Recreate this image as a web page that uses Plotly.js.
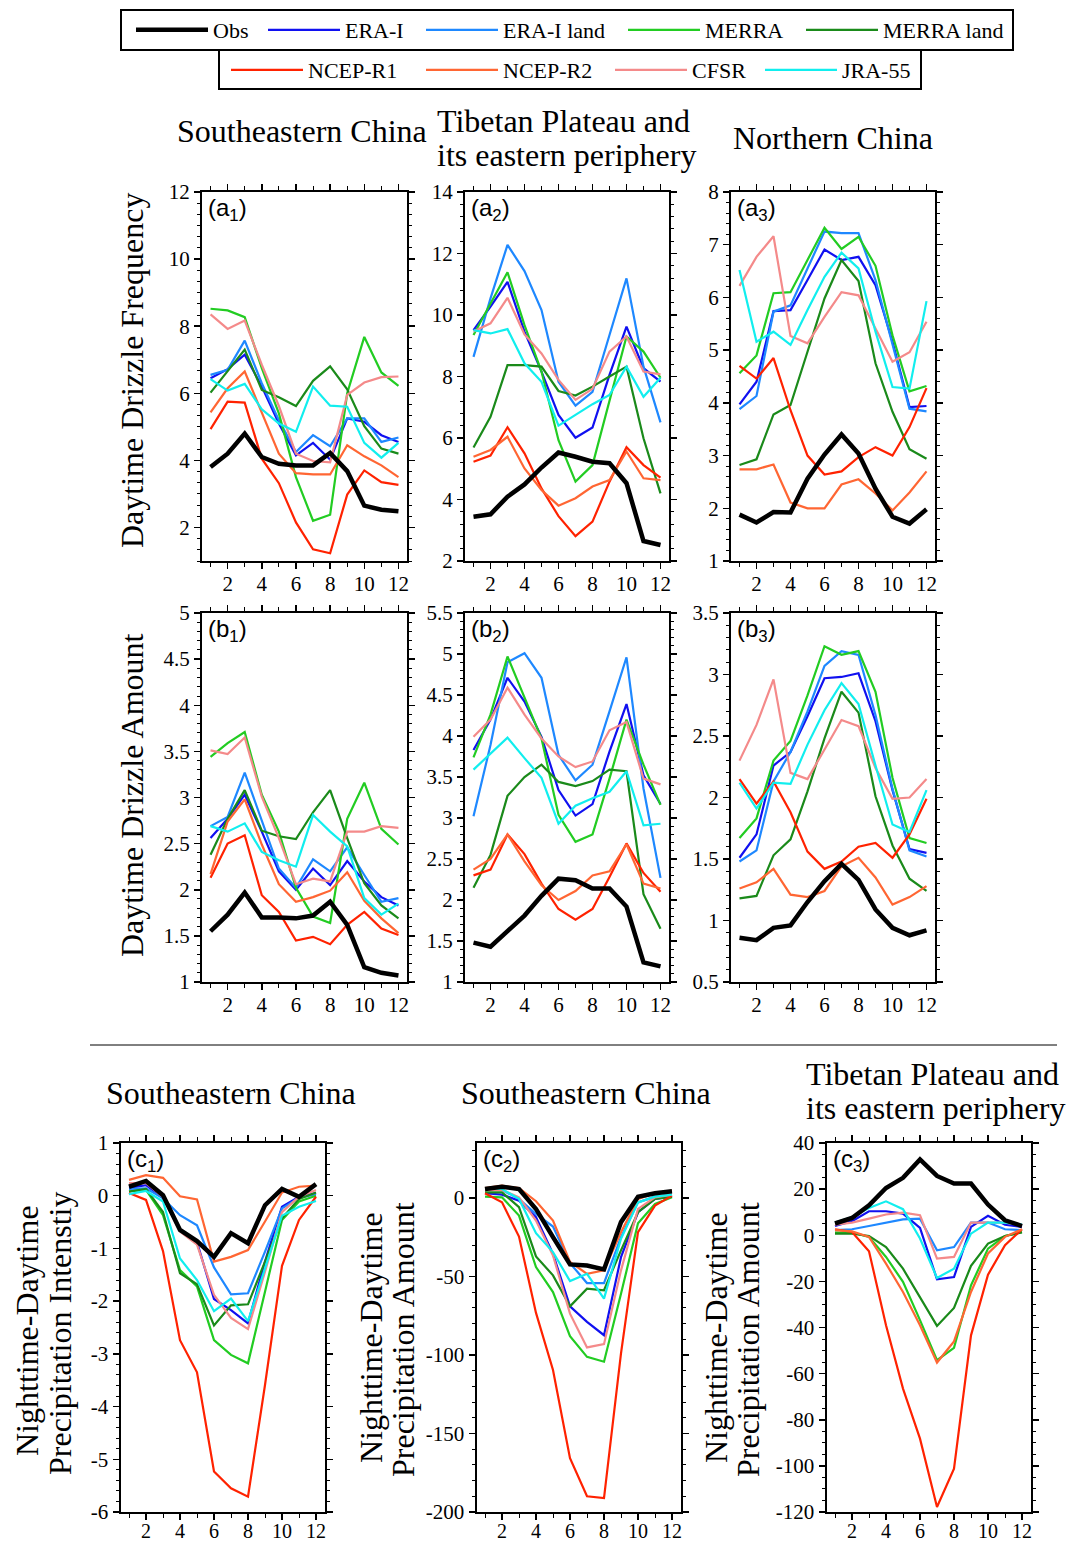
<!DOCTYPE html>
<html><head><meta charset="utf-8">
<script src="https://cdn.plot.ly/plotly-3.0.1.min.js"></script>
<style>html,body{margin:0;padding:0;background:#fff}#chart{width:1069px;height:1544px}</style>
</head><body><div id="chart"></div>
<script>
// ---------- data ----------
const months = [1,2,3,4,5,6,7,8,9,10,11,12];
const seriesNames = ['Obs','ERA-I','ERA-I land','MERRA','MERRA land','NCEP-R1','NCEP-R2','CFSR','JRA-55'];
const seriesColors = ['#000000','#1010f0','#1e88ff','#22cc22','#1a8a1a','#ff2200','#ff6633','#f48a8a','#11eeee'];

// rows follow seriesNames order
const panelA1 = [
 [3.8,4.2,4.8,4.1,3.9,3.85,3.85,4.22,3.68,2.65,2.53,2.48],
 [6.45,6.72,7.15,6.2,5.1,4.15,4.52,4.02,5.25,5.15,4.75,4.55],
 [6.55,6.7,7.57,6.3,5.2,4.25,4.75,4.42,5.25,5.25,4.55,4.68],
 [8.52,8.47,8.27,6.75,5.4,3.5,2.2,2.38,6.0,7.68,6.62,6.22],
 [6.02,6.67,7.3,6.1,5.88,5.62,6.37,6.8,6.12,5.02,4.35,4.2],
 [4.93,5.75,5.72,4.05,3.32,2.15,1.35,1.23,2.98,3.7,3.35,3.27],
 [5.43,6.15,6.65,5.4,4.2,3.62,3.58,3.58,4.45,4.12,3.85,3.5],
 [8.35,7.92,8.17,6.85,5.62,4.2,3.98,3.94,5.95,6.32,6.48,6.5],
 [6.42,6.08,6.28,5.52,5.1,4.85,6.2,5.63,5.6,4.52,4.08,4.52]];
const panelA2 = [
 [3.44,3.52,4.09,4.49,5.04,5.53,5.39,5.23,5.18,4.53,2.65,2.52],
 [9.51,10.27,11.08,9.46,8.16,6.75,6.01,6.34,8.05,9.62,8.27,7.83],
 [8.64,10.54,12.28,11.43,10.16,7.83,7.05,7.5,9.35,11.19,8.32,6.51],
 [9.35,10.38,11.39,9.67,8.16,5.93,4.58,5.12,7.18,9.3,8.81,7.96],
 [5.69,6.69,8.37,8.37,8.32,7.53,7.38,7.67,8.0,8.32,5.99,4.2],
 [5.23,5.43,6.35,5.5,4.36,3.46,2.81,3.28,4.58,5.7,5.12,4.71],
 [5.39,5.61,6.04,5.01,4.31,3.8,4.04,4.42,4.63,5.56,4.69,4.63],
 [9.46,9.73,10.56,9.37,8.75,7.89,7.24,7.6,8.81,9.3,8.16,8.07],
 [9.51,9.4,9.54,8.43,7.83,6.4,6.75,7.1,7.4,8.32,7.34,7.96]];
const panelA3 = [
 [1.88,1.73,1.93,1.92,2.56,3.02,3.4,3.04,2.37,1.84,1.71,1.98],
 [3.97,4.4,5.74,5.76,6.33,6.91,6.71,6.77,6.23,5.16,3.92,3.94],
 [3.88,4.13,5.73,5.85,6.55,7.25,7.22,7.22,6.33,5.1,3.89,3.84],
 [4.56,4.9,6.08,6.1,6.71,7.32,6.92,7.15,6.6,5.28,4.22,4.32],
 [2.82,2.93,3.78,3.96,4.97,5.98,6.71,6.31,4.75,3.83,3.12,2.94],
 [4.7,4.46,4.85,3.86,3.0,2.64,2.7,2.97,3.16,3.0,3.54,4.28],
 [2.74,2.74,2.83,2.11,2.0,2.0,2.45,2.55,2.28,1.96,2.3,2.7],
 [6.22,6.77,7.16,5.27,5.13,5.63,6.1,6.04,5.41,4.78,4.96,5.54],
 [6.52,5.16,5.35,5.1,5.76,6.39,6.85,6.55,5.35,4.3,4.27,5.93]];
const panelB1 = [
 [1.55,1.73,1.97,1.70,1.70,1.69,1.72,1.87,1.62,1.16,1.10,1.07],
 [2.56,2.77,3.03,2.63,2.2,2.0,2.23,2.05,2.31,2.09,1.92,1.83],
 [2.69,2.79,3.27,2.74,2.23,2.02,2.33,2.2,2.46,2.16,1.87,1.91],
 [3.44,3.59,3.71,3.03,2.63,2.02,1.71,1.64,2.77,3.16,2.66,2.49],
 [2.38,2.77,3.08,2.64,2.58,2.55,2.84,3.08,2.56,2.07,1.83,1.69],
 [2.13,2.5,2.59,1.94,1.76,1.45,1.49,1.41,1.62,1.76,1.58,1.51],
 [2.17,2.74,2.98,2.49,2.06,1.87,1.92,1.99,2.19,1.88,1.69,1.53],
 [3.51,3.47,3.65,3.01,2.56,2.06,2.12,2.09,2.63,2.63,2.69,2.67],
 [2.69,2.63,2.72,2.41,2.32,2.25,2.81,2.63,2.47,1.91,1.73,1.85]];
const panelB2 = [
 [1.48,1.43,1.62,1.81,2.05,2.26,2.24,2.14,2.14,1.92,1.24,1.19],
 [3.83,4.2,4.71,4.42,3.99,3.34,3.03,3.17,3.81,4.39,3.52,3.17],
 [3.02,3.89,4.9,5.01,4.71,3.77,3.46,3.65,4.3,4.96,3.36,2.27],
 [3.74,4.26,4.97,4.46,3.97,3.04,2.71,2.8,3.48,4.2,3.65,3.16],
 [2.15,2.55,3.27,3.5,3.65,3.44,3.39,3.45,3.59,3.57,2.07,1.65],
 [2.3,2.37,2.8,2.56,2.2,1.89,1.76,1.89,2.28,2.69,2.33,2.1],
 [2.37,2.5,2.8,2.47,2.18,2.0,2.11,2.3,2.35,2.68,2.2,2.14],
 [3.99,4.2,4.59,4.26,3.97,3.75,3.62,3.69,4.07,4.17,3.48,3.41],
 [3.59,3.79,3.98,3.73,3.49,2.93,3.15,3.24,3.32,3.57,2.91,2.93]];
const panelB3 = [
 [0.86,0.84,0.94,0.96,1.15,1.32,1.46,1.33,1.09,0.94,0.88,0.92],
 [1.51,1.7,2.26,2.37,2.66,2.97,2.98,3.01,2.62,2.06,1.58,1.55],
 [1.48,1.57,2.13,2.37,2.7,3.07,3.19,3.16,2.67,2.07,1.57,1.52],
 [1.67,1.83,2.3,2.46,2.83,3.23,3.16,3.19,2.86,2.16,1.67,1.63],
 [1.18,1.2,1.53,1.66,2.05,2.48,2.86,2.69,2.01,1.61,1.34,1.24],
 [2.15,1.95,2.13,1.88,1.56,1.42,1.48,1.6,1.63,1.51,1.7,1.99],
 [1.26,1.31,1.42,1.21,1.19,1.24,1.44,1.51,1.35,1.13,1.19,1.28],
 [2.3,2.59,2.96,2.2,2.15,2.39,2.63,2.58,2.24,1.99,2.0,2.15],
 [2.12,1.91,2.12,2.11,2.43,2.71,2.93,2.76,2.26,1.78,1.72,2.06]];
const panelC1 = [
 [0.17,0.28,0.01,-0.65,-0.86,-1.16,-0.71,-0.9,-0.18,0.13,-0.02,0.22],
 [0.15,0.2,-0.04,-0.65,-0.88,-1.96,-2.17,-2.42,-1.25,-0.21,-0.02,0.05],
 [0.13,0.14,-0.05,-0.37,-0.56,-1.36,-1.87,-1.85,-1.06,-0.24,-0.04,0.03],
 [0.08,0.11,-0.37,-1.41,-1.72,-2.74,-3.02,-3.18,-1.82,-0.46,-0.11,0.0],
 [0.08,0.13,-0.31,-1.47,-1.68,-2.46,-2.08,-2.06,-1.25,-0.43,-0.06,0.06],
 [0.05,-0.08,-1.05,-2.74,-3.35,-5.23,-5.55,-5.71,-3.59,-1.33,-0.46,-0.02],
 [0.3,0.39,0.34,-0.01,-0.07,-1.25,-1.16,-1.03,-0.49,0.06,0.17,0.19],
 [0.24,0.24,-0.02,-0.68,-0.93,-1.88,-2.32,-2.53,-1.44,-0.31,-0.02,0.11],
 [0.03,0.09,-0.11,-1.19,-1.6,-2.19,-1.95,-2.38,-1.38,-0.38,-0.21,-0.1]];
const panelC2 = [
 [5.7,7.2,5.7,-7,-25,-42.3,-43,-45.5,-15.4,0.8,3,4.2],
 [3,2.1,-1.7,-12.3,-35.6,-69,-78.9,-87.4,-37.7,-9.1,-0.6,0.8],
 [5.1,5.1,-0.6,-10.2,-18.2,-41.5,-54.2,-54.2,-25,-2.8,0.8,2.1],
 [0.8,0.4,-11.2,-44,-59.9,-88,-101.2,-104.3,-61,-16.1,-3.8,0.4],
 [3.6,3.6,-5.9,-37.2,-49.3,-69,-57.8,-58.8,-33.4,-9.1,-0.6,0.8],
 [3,-2.8,-24.6,-73.2,-109.6,-165.7,-190,-191.1,-99,-21.8,-4.9,1.5],
 [6.3,7.8,6.3,-2.1,-14.4,-40.8,-48.3,-46.1,-21.8,-0.6,3,4.7],
 [5.1,5.1,0.4,-14.4,-36.6,-73.7,-95.2,-93.1,-46.1,-7,0.4,2.1],
 [6.3,5.7,-0.6,-22.4,-34.5,-52.9,-48.3,-64.1,-26,-2.8,0.8,2.1]];
const panelC3 = [
 [5.1,7.5,13,20.5,24.9,32.9,25.7,22.4,22.4,13.3,6.5,4],
 [4,6.1,10.4,10.4,9.4,3.2,-19.1,-18.1,3.6,8.4,4.6,3.6],
 [2.2,2.6,4,5.5,6.9,7.2,-6.5,-5.1,5.5,5.5,2.6,2.2],
 [1.2,1.2,-0.7,-9.4,-20.2,-36.8,-54.2,-48.8,-21.7,-5.8,-0.3,1.4],
 [0.7,0.7,-0.3,-5.1,-14.5,-26.7,-39.3,-31.5,-13.3,-3.6,-0.3,1.2],
 [2.6,1.4,-6.9,-39,-66.5,-88.2,-117.8,-101.2,-43.4,-17.1,-4.3,2.6],
 [2.2,1.7,-0.7,-12.3,-24.6,-39,-55.2,-46,-24.6,-7.9,-0.7,2.6],
 [4.6,5.5,7.2,9,9.8,8.7,-10.1,-9.4,5.5,5.5,5.5,4.3],
 [5.5,7.9,11.8,14.7,11.3,-1.4,-18.5,-14.5,0.7,5.5,5.5,4.6]];

const panelLabels = ['a','a','a','b','b','b','c','c','c'];
const panelSubs = ['1','2','3','1','2','3','1','2','3'];

// ---------- layout geometry ----------
const W = 1069, H = 1544;
const panels = [panelA1,panelA2,panelA3,panelB1,panelB2,panelB3,panelC1,panelC2,panelC3];
const xPix = [[202,407],[465,669],[731,935],[202,407],[465,669],[731,935],[120.5,324.5],[476.5,680.5],[826.5,1030.5]];
const yPix = [[192,561],[192,561],[192,561],[613,982],[613,982],[613,982],[1143,1512],[1143,1512],[1143,1512]];
const yRanges = [[1,12],[2,14],[1,8],[1,5],[1,5.5],[0.5,3.5],[-6,1],[-200,35],[-120,40]];
const yDticks = [2,2,1,0.5,0.5,0.5,1,50,20];
const yMinor = [1/3,0.4,0.2,0.1,0.1,0.1,0.2,10,5];
// legend entry placement (text start x, row centre y)
const legendTextX = [215,347,505,707,885,310,505,694,844];
const legendRowY = [30,30,30,30,30,70,70,70,70];

const serif = 'Liberation Serif, Times New Roman, serif';
const traces = [];
const drawOrder = [1,2,3,4,5,6,7,8,0];
const legendIds = seriesNames.map((n,i) => i===0 ? 'legend' : 'legend'+(i+1));
panels.forEach((pd, p) => {
  const ax = p === 0 ? '' : String(p+1);
  drawOrder.forEach(s => {
    traces.push({
      type:'scatter', mode:'lines', x: months, y: pd[s],
      xaxis:'x'+ax, yaxis:'y'+ax,
      name: seriesNames[s],
      line:{color: seriesColors[s], width: s===0 ? 4.5 : 2.2},
      showlegend: p===0,
      legend: legendIds[s],
      hoverinfo:'x+y+name'
    });
  });
});

const layout = {
  width: W, height: H,
  margin:{l:0,r:0,t:0,b:0},
  paper_bgcolor:'#fff', plot_bgcolor:'#fff',
  font:{family: serif, color:'#000'},
  showlegend:true,
  annotations:[], shapes:[]
};
legendIds.forEach((id, s) => {
  layout[id] = {orientation:'h', x:(legendTextX[s]-84)/W, xanchor:'left',
    y:1-legendRowY[s]/H, yanchor:'middle', borderwidth:0, bgcolor:'rgba(0,0,0,0)',
    font:{family:serif, size:22, color:'#000'}, itemwidth:72};
});
// legend frames
layout.shapes.push({type:'rect', xref:'paper', yref:'paper', x0:121/W, x1:1013/W, y0:1-50/H, y1:1-10/H, line:{color:'#000', width:2}});
layout.shapes.push({type:'rect', xref:'paper', yref:'paper', x0:219/W, x1:921/W, y0:1-89/H, y1:1-50/H, line:{color:'#000', width:2}});

function fmt(v){ return String(Math.round(v*1000)/1000); }
panels.forEach((pd, p) => {
  const ax = p === 0 ? '' : String(p+1);
  const common = {showline:true, linecolor:'#000', linewidth:2, mirror:'ticks',
    ticks:'outside', ticklen:6, tickwidth:1.5, tickcolor:'#000',
    showgrid:false, zeroline:false, automargin:false, fixedrange:true,
    tickfont:{family:serif, size:21, color:'#000'}};
  const yv = [];
  const r = yRanges[p], d = yDticks[p];
  for (let v = Math.ceil(r[0]/d - 1e-9)*d; v <= r[1] + 1e-9; v += d) yv.push(Math.round(v*1000)/1000);
  layout['xaxis'+ax] = Object.assign({}, common, {
    domain:[xPix[p][0]/W, xPix[p][1]/W], anchor:'y'+ax,
    range:[0.5,12.5], tick0:0, dtick:2, ticklabelstandoff: p >= 6 ? -6 : -3,
    tickfont:{family:serif, size: p >= 6 ? 20 : 21, color:'#000'},
    minor:{ticks:'outside', ticklen:4, tick0:0, dtick:1, tickcolor:'#000', tickwidth:1}
  });
  layout['yaxis'+ax] = Object.assign({}, common, {
    domain:[1-yPix[p][1]/H, 1-yPix[p][0]/H], anchor:'x'+ax,
    range:r, tickmode:'array', tickvals:yv, ticktext:yv.map(fmt),
    minor:{ticks:'outside', ticklen:3, tickmode:'linear', tick0:0, dtick:yMinor[p], tickcolor:'#000', tickwidth:1}
  });
  layout.annotations.push({
    xref:'x'+ax+' domain', yref:'y'+ax+' domain', x:0.02, y:1.0, xanchor:'left', yanchor:'top',
    text:'(' + panelLabels[p] + '<sub>' + panelSubs[p] + '</sub>)', showarrow:false,
    font:{family:'Liberation Sans, Arial, sans-serif', size:24, color:'#000'}
  });
});

function ann(text, px, py, opts) {
  layout.annotations.push(Object.assign({
    xref:'paper', yref:'paper', x:px/W, y:1-py/H, text:text, showarrow:false,
    xanchor:'center', yanchor:'middle',
    font:{family:serif, size:32, color:'#000'}
  }, opts||{}));
}
// column titles
ann('Southeastern China', 302, 131);
ann('Tibetan Plateau and', 435, 121, {xanchor:'left'});
ann('its eastern periphery', 435, 155, {xanchor:'left'});
ann('Northern China', 833, 138);
ann('Southeastern China', 231, 1093);
ann('Southeastern China', 586, 1093);
ann('Tibetan Plateau and', 804, 1074, {xanchor:'left'});
ann('its eastern periphery', 804, 1108, {xanchor:'left'});
// y titles
ann('Daytime Drizzle Frequency', 132, 371, {textangle:-90});
ann('Daytime Drizzle Amount', 132, 795, {textangle:-90});
ann('Nighttime-Daytime', 27, 1331, {textangle:-90});
ann('Precipitation Intenstiy', 60, 1333, {textangle:-90});
ann('Nighttime-Daytime', 371, 1338, {textangle:-90});
ann('Precipitation Amount', 403, 1340, {textangle:-90});
ann('Nighttime-Daytime', 716, 1338, {textangle:-90});
ann('Precipitation Amount', 748, 1340, {textangle:-90});

layout.shapes.push({type:'line', xref:'paper', yref:'paper', x0:90/W, x1:1057/W,
  y0:1-1045/H, y1:1-1045/H, line:{color:'#000', width:1}});

Plotly.newPlot('chart', traces, layout, {displayModeBar:false, staticPlot:true});
</script>
</body></html>
